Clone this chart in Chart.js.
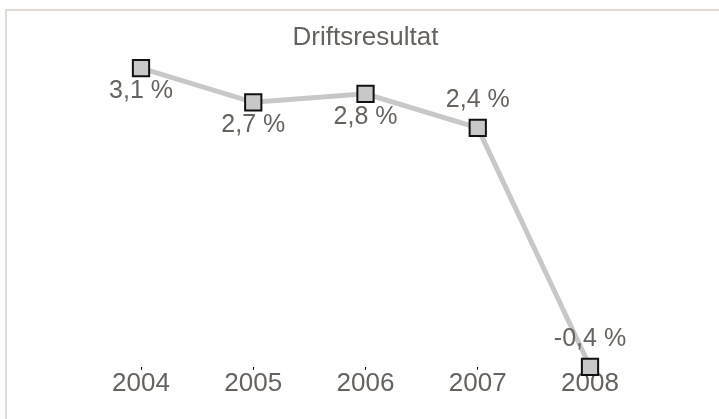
<!DOCTYPE html>
<html>
<head>
<meta charset="utf-8">
<script src="https://cdn.jsdelivr.net/npm/chart.js@4"></script>
<style>
  html, body { margin: 0; padding: 0; background: #fff; }
  #frame { position: absolute; left: 5px; top: 9px; width: 900px; height: 600px;
    border: 2px solid #e3dbd3; }
  #wrap { position: absolute; left: 0; top: 0; width: 719px; height: 419px; }
</style>
</head>
<body>
<div id="frame"></div>
<div id="wrap"><canvas id="myChart"></canvas></div>
<script>
const years = ['2004', '2005', '2006', '2007', '2008'];
const result = [3.1, 2.7, 2.8, 2.4, -0.4];
const labelSide = ['below', 'below', 'below', 'above', 'above'];

const textColor = '#67625e';
const fontFamily = '"Liberation Sans", Arial, sans-serif';

// value labels next to the markers
const valueLabels = {
  id: 'valueLabels',
  afterDatasetsDraw(chart) {
    const {ctx} = chart;
    const meta = chart.getDatasetMeta(0);
    ctx.save();
    ctx.font = '25px ' + fontFamily;
    ctx.fillStyle = textColor;
    ctx.textAlign = 'center';
    ctx.textBaseline = 'middle';
    meta.data.forEach((pt, i) => {
      const txt = result[i].toFixed(1).replace('.', ',') + ' %';
      const dy = labelSide[i] === 'below' ? 23 : -28;
      ctx.fillText(txt, pt.x, pt.y + dy);
    });
    ctx.restore();
  }
};

const config = {
  type: 'line',
  data: {
    labels: years,
    datasets: [{
      label: 'Driftsresultat',
      data: result,
      borderColor: '#c8c8c8',
      borderWidth: 5,
      pointStyle: 'rect',
      pointRadius: 11.5,
      pointHoverRadius: 11.5,
      pointBackgroundColor: '#c8c8c8',
      pointBorderColor: '#111',
      pointBorderWidth: 2,
      tension: 0,
      clip: false
    }]
  },
  options: {
    responsive: false,
    animation: false,
    layout: { padding: { left: 141, right: 129, top: 0, bottom: 22 } },
    plugins: {
      legend: { display: false },
      tooltip: { enabled: false },
      title: {
        display: true,
        text: 'Driftsresultat',
        color: textColor,
        font: { family: fontFamily, size: 26, weight: 'normal' },
        padding: { top: 22, bottom: 15 }
      }
    },
    scales: {
      x: {
        offset: false,
        border: { display: false },
        grid: { drawOnChartArea: false, drawTicks: true, tickLength: 3, color: '#000' },
        ticks: { color: textColor, padding: -2, font: { family: fontFamily, size: 26 } }
      },
      y: {
        display: false,
        min: -0.4,
        max: 3.1
      }
    }
  },
  plugins: [valueLabels]
};

const canvas = document.getElementById('myChart');
canvas.width = 719;
canvas.height = 419;
const myChart = new Chart(canvas, config);
</script>
</body>
</html>
